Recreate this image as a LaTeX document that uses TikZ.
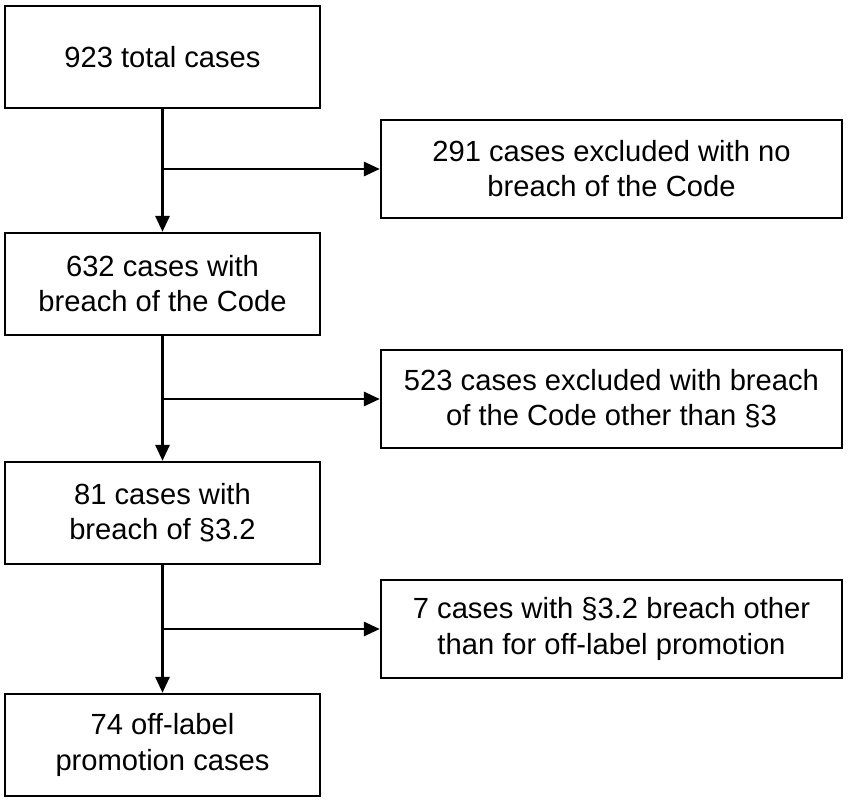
\documentclass[tikz,border=0pt]{standalone}
\usepackage{fontspec}
\setmainfont{Liberation Sans}
\usetikzlibrary{arrows.meta}
\begin{document}
\begin{tikzpicture}[x=0.02cm,y=-0.02cm,
  box/.style={draw,line width=1.4pt,align=center,inner sep=0pt,font=\fontsize{16.6}{20}\selectfont},
  lbox/.style={box,minimum width=315*0.02cm,minimum height=102*0.02cm},
  rbox/.style={box,minimum width=461*0.02cm,minimum height=98*0.02cm},
  arr/.style={line width=1.4pt,-{Triangle[length=9pt,width=8pt]}}]
\useasboundingbox (0,0) rectangle (849,800);
\node[lbox] (a) at (162.5,57) {923 total cases};
\node[rbox] (b) at (611.5,169) {291 cases excluded with no\\breach of the Code};
\node[lbox] (c) at (162.5,284) {632 cases with\\breach of the Code};
\node[rbox] (d) at (611.5,399) {523 cases excluded with breach\\of the Code other than §3};
\node[lbox] (e) at (162.5,513) {81 cases with\\breach of §3.2};
\node[rbox] (f) at (611.5,629) {7 cases with §3.2 breach other\\than for off-label promotion};
\node[lbox] (g) at (162.5,745) {74 off-label\\promotion cases};
\coordinate (j1) at (162.5,169);
\coordinate (j2) at (162.5,399);
\coordinate (j3) at (162.5,629);
\draw[arr] (a) -- (c);
\draw[arr] (c) -- (e);
\draw[arr] (e) -- (g);
\draw[arr] (j1) -- (b);
\draw[arr] (j2) -- (d);
\draw[arr] (j3) -- (f);
\end{tikzpicture}
\end{document}
